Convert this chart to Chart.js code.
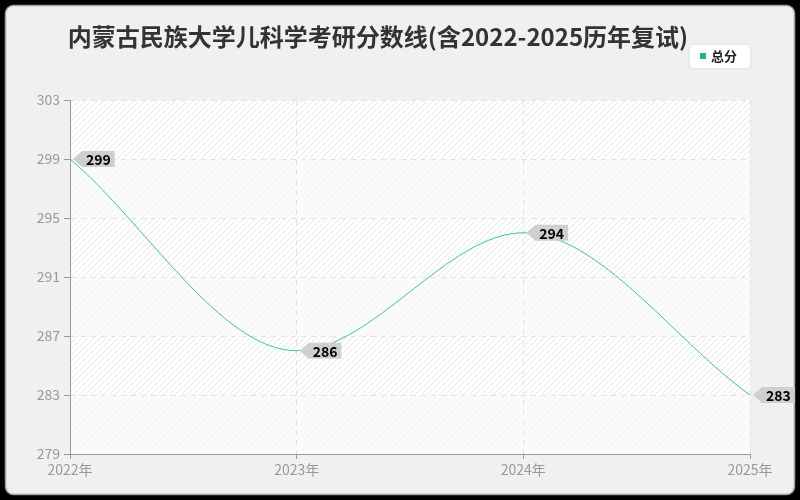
<!DOCTYPE html>
<html><head><meta charset="utf-8">
<script src="https://cdn.jsdelivr.net/npm/chart.js@4"></script>
<style>html,body{margin:0;padding:0;background:#000;}#wrap{width:800px;height:500px;}</style>
</head><body><div id="wrap"><canvas id="c" width="800" height="500"></canvas></div>
<script>
const titleText = "内蒙古民族大学儿科学考研分数线(含2022-2025历年复试)";
const seriesName = "总分";
const categories = ["2022年", "2023年", "2024年", "2025年"];
const totalScores = [299, 286, 294, 283];
const yMin = 279, yMax = 303, yStep = 4;

const FONT = "'Noto Sans CJK SC', 'Noto Sans', sans-serif";
const LINE_COLOR = "#3ec4a0";

function hatchPattern(ctx) {
  const p = document.createElement('canvas');
  p.width = 6; p.height = 6;
  const g = p.getContext('2d');
  g.fillStyle = '#ffffff'; g.fillRect(0,0,6,6);
  g.strokeStyle = '#e8e8e8'; g.lineWidth = 1;
  g.beginPath(); g.moveTo(-1,7); g.lineTo(7,-1); g.stroke();
  g.beginPath(); g.moveTo(-1,1); g.lineTo(1,-1); g.stroke();
  g.beginPath(); g.moveTo(5,7); g.lineTo(7,5); g.stroke();
  return ctx.createPattern(p, 'repeat');
}

const decor = {
  id: 'decor',
  beforeDraw(chart) {
    const ctx = chart.ctx, a = chart.chartArea, y = chart.scales.y;
    ctx.save();
    ctx.fillStyle = '#000'; ctx.fillRect(0,0,800,500);
    ctx.beginPath(); ctx.roundRect(5.5,5.5,789,489,8);
    ctx.fillStyle = '#f0f0f0'; ctx.fill();
    ctx.strokeStyle = '#a0a0a0'; ctx.lineWidth = 1.5; ctx.stroke();
    ctx.fillStyle = hatchPattern(ctx);
    ctx.fillRect(a.left, a.top, a.right-a.left, a.bottom-a.top);
    ctx.fillStyle = 'rgba(250,250,250,0.75)';
    let k = 0;
    for (let v = yMax; v > yMin; v -= yStep, k++) {
      if (k % 2 === 1) {
        const t = y.getPixelForValue(v), b = y.getPixelForValue(v - yStep);
        ctx.fillRect(a.left, t, a.right-a.left, b-t);
      }
    }
    // title
    ctx.fillStyle = '#333';
    ctx.font = "bold 24px " + FONT;
    ctx.textAlign = 'center'; ctx.textBaseline = 'middle';
    ctx.fillText(titleText, 378, 37);
    // legend
    ctx.beginPath(); ctx.roundRect(690,45,60,23,4);
    ctx.fillStyle = '#fff'; ctx.shadowColor='rgba(0,0,0,0.12)'; ctx.shadowBlur=3; ctx.fill();
    ctx.shadowBlur=0; ctx.shadowColor='transparent';
    ctx.fillStyle = '#1fb585'; ctx.fillRect(700,53,6,6);
    ctx.fillStyle = '#222'; ctx.font = "bold 13px " + FONT;
    ctx.textAlign = 'left'; ctx.fillText(seriesName, 711, 56);
    ctx.restore();
  },
  afterDatasetsDraw(chart) {
    const ctx = chart.ctx, meta = chart.getDatasetMeta(0);
    ctx.save();
    ctx.font = "bold 14px " + FONT;
    meta.data.forEach((pt, i) => {
      const txt = String(chart.data.datasets[0].data[i]);
      const x = pt.x, yy = pt.y;
      const w = ctx.measureText(txt).width + 8;
      const x0 = x + 12, h = 16;
      ctx.beginPath();
      ctx.moveTo(x + 3, yy);
      ctx.lineTo(x0, yy - h/2);
      ctx.lineTo(x0 + w, yy - h/2);
      ctx.lineTo(x0 + w, yy + h/2);
      ctx.lineTo(x0, yy + h/2);
      ctx.closePath();
      ctx.fillStyle = '#cfcfcf'; ctx.fill();
      ctx.fillStyle = '#000'; ctx.textAlign = 'center'; ctx.textBaseline = 'middle';
      ctx.fillText(txt, x0 + w/2, yy + 0.5);
    });
    ctx.restore();
  }
};

new Chart(document.getElementById('c'), {
  type: 'line',
  data: {
    labels: categories,
    datasets: [{
      label: seriesName,
      data: totalScores,
      borderColor: LINE_COLOR,
      backgroundColor: LINE_COLOR,
      borderWidth: 1,
      pointRadius: 0,
      pointHoverRadius: 0,
      cubicInterpolationMode: 'monotone',
      fill: false
    }]
  },
  options: {
    responsive: false,
    animation: false,
    devicePixelRatio: 1,
    layout: { padding: { left: 0, top: 100, right: 50, bottom: 0 } },
    plugins: { legend: { display: false }, title: { display: false }, tooltip: { enabled: false } },
    scales: {
      x: {
        type: 'category',
        offset: false,
        afterFit(s) { s.height = 46; },
        grid: { color: '#e2e2e2', tickColor: '#999', tickLength: 5, drawOnChartArea: true },
        border: { color: '#999', dash: [5,5], width: 1 },
        ticks: { color: '#999', font: { size: 14, family: FONT }, padding: 2, maxRotation: 0 }
      },
      y: {
        min: yMin, max: yMax,
        afterFit(s) { s.width = 70; },
        grid: { color: '#e2e2e2', tickColor: '#999', tickLength: 6 },
        border: { color: '#999', dash: [5,5], width: 1 },
        ticks: { stepSize: yStep, color: '#999', font: { size: 14, family: FONT }, padding: 4 }
      }
    }
  },
  plugins: [decor]
});
</script>
</body></html>
